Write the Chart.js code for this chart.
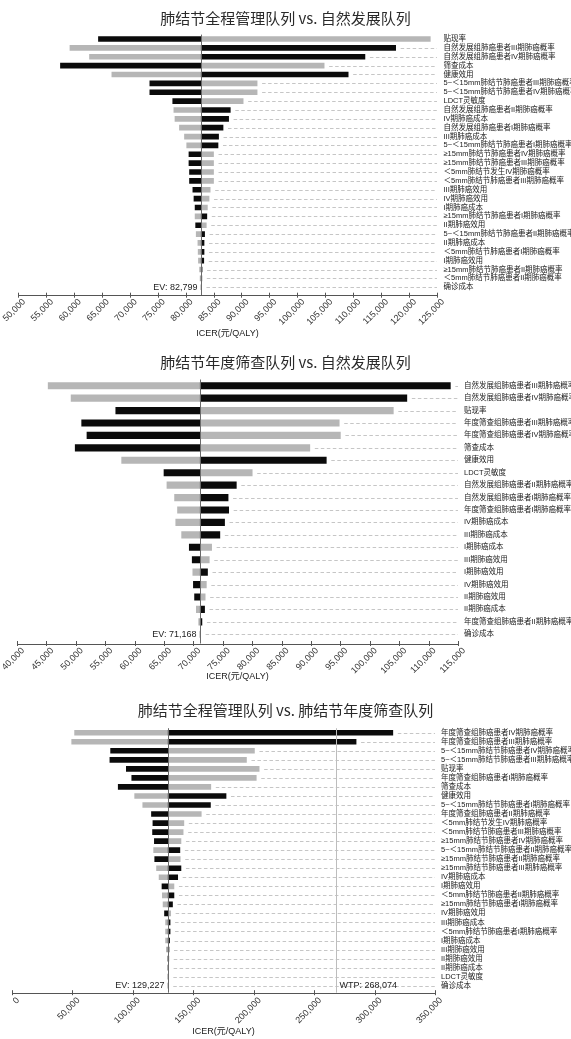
<!DOCTYPE html>
<html>
<head>
<meta charset="utf-8">
<script src="https://cdn.jsdelivr.net/npm/chart.js@4.4.1/dist/chart.umd.min.js"></script>
<style>
  html, body { margin: 0; padding: 0; background: #ffffff; }
  body { width: 571px; height: 1039px; overflow: hidden; }
  .panel { position: relative; width: 571px; }
  canvas { display: block; }
</style>
</head>
<body>
<div class="panel" style="height:340px"><canvas id="c1"></canvas></div>
<div class="panel" style="height:350px"><canvas id="c2"></canvas></div>
<div class="panel" style="height:349px"><canvas id="c3"></canvas></div>
<script>
// ---------- Panel 1: 肺结节全程管理队列 vs. 自然发展队列 ----------
const p1Title = '肺结节全程管理队列 vs. 自然发展队列';
const p1Labels = [
  '贴现率',
  '自然发展组肺癌患者III期肺癌概率',
  '自然发展组肺癌患者IV期肺癌概率',
  '筛查成本',
  '健康效用',
  '5~＜15mm肺结节肺癌患者III期肺癌概率',
  '5~＜15mm肺结节肺癌患者IV期肺癌概率',
  'LDCT灵敏度',
  '自然发展组肺癌患者II期肺癌概率',
  'IV期肺癌成本',
  '自然发展组肺癌患者I期肺癌概率',
  'III期肺癌成本',
  '5~＜15mm肺结节肺癌患者I期肺癌概率',
  '≥15mm肺结节肺癌患者IV期肺癌概率',
  '≥15mm肺结节肺癌患者III期肺癌概率',
  '＜5mm肺结节发生IV期肺癌概率',
  '＜5mm肺结节肺癌患者III期肺癌概率',
  'III期肺癌效用',
  'IV期肺癌效用',
  'I期肺癌成本',
  '≥15mm肺结节肺癌患者I期肺癌概率',
  'II期肺癌效用',
  '5~＜15mm肺结节肺癌患者II期肺癌概率',
  'II期肺癌成本',
  '＜5mm肺结节肺癌患者I期肺癌概率',
  'I期肺癌效用',
  '≥15mm肺结节肺癌患者II期肺癌概率',
  '＜5mm肺结节肺癌患者II期肺癌概率',
  '确诊成本'
];
const p1Black = [64400, 117600, 112100, 57600, 109100, 73600, 73600, 77700, 88000, 87700,
                 86700, 85900, 85800, 80600, 80600, 80700, 80700, 81300, 81500, 81700,
                 83800, 81800, 83400, 83300, 83300, 83250, 82950, 82900, 82840];
const p1Grey  = [123800, 59300, 62800, 104800, 66800, 92800, 92800, 90300, 77900, 78100,
                 78900, 79800, 80200, 85000, 85000, 85000, 85000, 84400, 84200, 83900,
                 81700, 83700, 81900, 82200, 82250, 82300, 82500, 82600, 82760];
const p1EV = 82799;
const p1Range = [50000, 125000, 5000];

// ---------- Panel 2: 肺结节年度筛查队列 vs. 自然发展队列 ----------
const p2Title = '肺结节年度筛查队列 vs. 自然发展队列';
const p2Labels = [
  '自然发展组肺癌患者III期肺癌概率',
  '自然发展组肺癌患者IV期肺癌概率',
  '贴现率',
  '年度筛查组肺癌患者III期肺癌概率',
  '年度筛查组肺癌患者IV期肺癌概率',
  '筛查成本',
  '健康效用',
  'LDCT灵敏度',
  '自然发展组肺癌患者II期肺癌概率',
  '自然发展组肺癌患者I期肺癌概率',
  '年度筛查组肺癌患者I期肺癌概率',
  'IV期肺癌成本',
  'III期肺癌成本',
  'I期肺癌成本',
  'III期肺癌效用',
  'I期肺癌效用',
  'IV期肺癌效用',
  'II期肺癌效用',
  'II期肺癌成本',
  '年度筛查组肺癌患者II期肺癌概率',
  '确诊成本'
];
const p2Black = [113700, 106300, 56800, 51000, 51900, 49900, 92600, 65000, 77300, 75900,
                 76000, 75300, 74500, 69300, 69800, 72400, 70000, 70200, 71900, 71450, 71230];
const p2Grey  = [45300, 49200, 104000, 94800, 95000, 89800, 57800, 80000, 65500, 66800,
                 67300, 67000, 68000, 73100, 72700, 69900, 72200, 72000, 70500, 70900, 71110];
const p2EV = 71168;
const p2Range = [40000, 115000, 5000];

// ---------- Panel 3: 肺结节全程管理队列 vs. 肺结节年度筛查队列 ----------
const p3Title = '肺结节全程管理队列 vs. 肺结节年度筛查队列';
const p3Labels = [
  '年度筛查组肺癌患者IV期肺癌概率',
  '年度筛查组肺癌患者III期肺癌概率',
  '5~＜15mm肺结节肺癌患者IV期肺癌概率',
  '5~＜15mm肺结节肺癌患者III期肺癌概率',
  '贴现率',
  '年度筛查组肺癌患者I期肺癌概率',
  '筛查成本',
  '健康效用',
  '5~＜15mm肺结节肺癌患者I期肺癌概率',
  '年度筛查组肺癌患者II期肺癌概率',
  '＜5mm肺结节发生IV期肺癌概率',
  '＜5mm肺结节肺癌患者III期肺癌概率',
  '≥15mm肺结节肺癌患者IV期肺癌概率',
  '5~＜15mm肺结节肺癌患者II期肺癌概率',
  '≥15mm肺结节肺癌患者II期肺癌概率',
  '≥15mm肺结节肺癌患者III期肺癌概率',
  'IV期肺癌成本',
  'I期肺癌效用',
  '＜5mm肺结节肺癌患者II期肺癌概率',
  '≥15mm肺结节肺癌患者I期肺癌概率',
  'IV期肺癌效用',
  'III期肺癌成本',
  '＜5mm肺结节肺癌患者I期肺癌概率',
  'I期肺癌成本',
  'III期肺癌效用',
  'II期肺癌效用',
  'II期肺癌成本',
  'LDCT灵敏度',
  '确诊成本'
];
const p3Black = [315100, 284700, 81600, 81000, 94600, 99100, 87900, 177100, 164200, 115400,
                 116600, 116300, 117800, 138900, 118100, 139800, 137100, 124100, 134000, 132800,
                 126200, 130800, 130800, 130400, 129900, 129700, 129600, 129350, 129300];
const p3Grey  = [51800, 49400, 200600, 194000, 204500, 202100, 164500, 101500, 108200, 156600,
                 142200, 141600, 139800, 117200, 139200, 119600, 121700, 134000, 124400, 125000,
                 131300, 127100, 127100, 127100, 127700, 128600, 128800, 129100, 129150];
const p3EV = 129227;
const p3WTP = 268074;
const p3Range = [0, 350000, 50000];

// ---------- shared drawing ----------
const LATIN = '"Liberation Sans", Arial, "Noto Sans CJK SC", sans-serif';
const CJK = '"Noto Sans CJK SC", "Liberation Sans", sans-serif';
const BLACK = '#0b0b0b';
const GREY = '#b6b6b6';
const fmt = v => Number(v).toLocaleString('en-US');

// Leader dashes, reference lines and the custom axis rule of a tornado panel
function tornadoGuides(spec) {
  return {
    id: 'tornadoGuides',
    beforeDatasetsDraw(chart) {
      const {ctx, chartArea} = chart;
      const xs = chart.scales.x, ys = chart.scales.y;
      const dsB = chart.data.datasets[0].data, dsG = chart.data.datasets[1].data;
      ctx.save();
      ctx.strokeStyle = '#c6c6c6';
      ctx.lineWidth = 1;
      ctx.setLineDash([3.5, 2.5]);
      chart.data.labels.forEach((_, i) => {
        const end = Math.max(dsB[i][1], dsG[i][1], spec.ev);
        const x0 = xs.getPixelForValue(end) + 5;
        const yy = Math.round(ys.getPixelForValue(i)) + 0.5;
        if (x0 < chartArea.right - 2) {
          ctx.beginPath();
          ctx.moveTo(x0, yy);
          ctx.lineTo(chartArea.right, yy);
          ctx.stroke();
        }
      });
      ctx.restore();
    },
    afterDatasetsDraw(chart) {
      const {ctx, chartArea} = chart;
      const xs = chart.scales.x, ys = chart.scales.y;
      const axisY = chartArea.bottom + spec.gap;
      const lastY = ys.getPixelForValue(chart.data.labels.length - 1);
      ctx.save();
      // expected value line
      const evX = Math.round(xs.getPixelForValue(spec.ev)) + 0.5;
      ctx.strokeStyle = '#6a6a6a';
      ctx.lineWidth = 1;
      ctx.beginPath();
      ctx.moveTo(evX, chartArea.top);
      ctx.lineTo(evX, axisY);
      ctx.stroke();
      ctx.font = '9px ' + LATIN;
      ctx.fillStyle = '#222';
      ctx.textBaseline = 'middle';
      ctx.textAlign = 'right';
      ctx.fillText('EV: ' + fmt(spec.ev), evX - 4, lastY);
      // willingness-to-pay line
      if (spec.wtp != null) {
        const wX = Math.round(xs.getPixelForValue(spec.wtp)) + 0.5;
        ctx.strokeStyle = '#bdbdbd';
        ctx.beginPath();
        ctx.moveTo(wX, chartArea.top);
        ctx.lineTo(wX, axisY);
        ctx.stroke();
        ctx.textAlign = 'left';
        ctx.fillText('WTP: ' + fmt(spec.wtp), wX + 3, lastY);
      }
      // axis rule with crossing tick marks
      ctx.strokeStyle = '#555';
      ctx.beginPath();
      ctx.moveTo(xs.left, Math.round(axisY) + 0.5);
      ctx.lineTo(xs.right, Math.round(axisY) + 0.5);
      ctx.stroke();
      xs.ticks.forEach(t => {
        const px = Math.round(xs.getPixelForValue(t.value)) + 0.5;
        ctx.beginPath();
        ctx.moveTo(px, axisY - 2.5);
        ctx.lineTo(px, axisY + 2.5);
        ctx.stroke();
      });
      ctx.restore();
    }
  };
}

function makeTornado(id, spec) {
  const ctx = document.getElementById(id);
  return new Chart(ctx, {
    type: 'bar',
    data: {
      labels: spec.labels,
      datasets: [
        { data: spec.black.map(v => [spec.ev, v]), backgroundColor: BLACK,
          grouped: false, barThickness: spec.bar, borderWidth: 0 },
        { data: spec.grey.map(v => [spec.ev, v]), backgroundColor: GREY,
          grouped: false, barThickness: spec.bar, borderWidth: 0 }
      ]
    },
    options: {
      indexAxis: 'y',
      responsive: true,
      maintainAspectRatio: false,
      animation: false,
      events: [],
      layout: { padding: 0 },
      plugins: {
        legend: { display: false },
        tooltip: { enabled: false },
        title: {
          display: true,
          text: spec.title,
          color: '#2a2a2a',
          font: { family: CJK, size: 15, weight: 'normal', lineHeight: 1.2 },
          padding: { top: spec.titleTop, bottom: spec.titleBottom }
        }
      },
      scales: {
        x: {
          type: 'linear',
          position: 'bottom',
          min: spec.range[0],
          max: spec.range[1],
          grid: { display: false, drawTicks: false },
          border: { display: false },
          ticks: {
            stepSize: spec.range[2],
            autoSkip: false,
            minRotation: 45,
            maxRotation: 45,
            padding: 5,
            labelOffset: 6,
            color: '#333',
            font: { family: LATIN, size: 9 },
            callback: v => fmt(v)
          },
          title: {
            display: true,
            text: 'ICER(元/QALY)',
            color: '#222',
            font: { family: LATIN, size: 9 },
            padding: { top: 0, bottom: spec.axisTitlePad }
          },
          afterFit(s) {
            s.height = spec.axisH;
            s.paddingLeft = spec.left;
            s.paddingRight = 0;
          }
        },
        y: {
          type: 'category',
          position: 'right',
          offset: true,
          grid: { display: false, drawTicks: false },
          border: { display: false },
          ticks: {
            autoSkip: false,
            padding: spec.labelPad,
            color: '#222',
            font: { family: LATIN, size: 7.5 }
          },
          afterFit(s) {
            s.width = 571 - spec.right;
            s.paddingTop = 0;
            s.paddingBottom = 0;
          }
        }
      }
    },
    plugins: [tornadoGuides(spec)]
  });
}

makeTornado('c1', {
  title: p1Title, labels: p1Labels, black: p1Black, grey: p1Grey, ev: p1EV, range: p1Range,
  left: 18, right: 437, titleTop: 9.3, titleBottom: 7.3, axisH: 48.3, axisTitlePad: 1.5,
  bar: 5, labelPad: 6.5, gap: 3.5
});
makeTornado('c2', {
  title: p2Title, labels: p2Labels, black: p2Black, grey: p2Grey, ev: p2EV, range: p2Range,
  left: 17, right: 458, titleTop: 13.7, titleBottom: 7.8, axisH: 49.5, axisTitlePad: 8.5,
  bar: 6.5, labelPad: 6, gap: 3
});
makeTornado('c3', {
  title: p3Title, labels: p3Labels, black: p3Black, grey: p3Grey, ev: p3EV, wtp: p3WTP, range: p3Range,
  left: 12, right: 435, titleTop: 11.7, titleBottom: 8.5, axisH: 48.8, axisTitlePad: 2.5,
  bar: 5, labelPad: 6, gap: 2.5
});
</script>
</body>
</html>
